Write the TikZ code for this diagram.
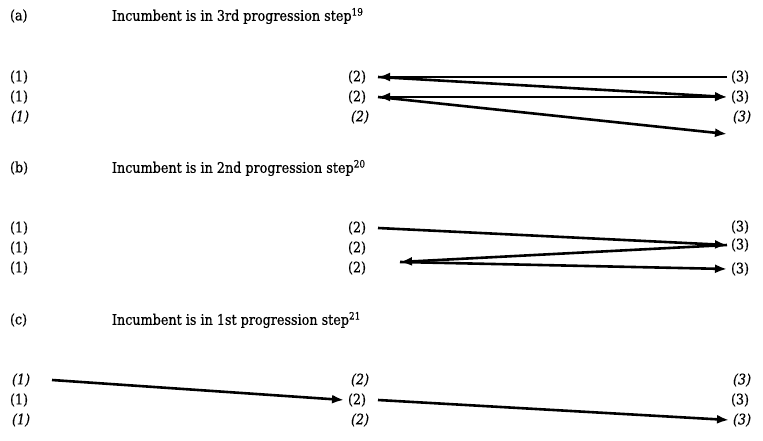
\documentclass[tikz,border=0pt]{standalone}
\usepackage{fontspec}
\setmainfont{DejaVu Serif}[FakeStretch=0.88,UprightFeatures={FakeBold=0.6},ItalicFeatures={FakeBold=0.6}]
\usetikzlibrary{arrows.meta}
\begin{document}
\begin{tikzpicture}[x=1pt,y=-1pt,
  hdg/.style={anchor=west,inner sep=1pt,outer sep=0pt,font=\fontsize{14.5}{16}\selectfont},
  lbl/.style={hdg,outer sep=3pt,text width=26pt,align=left},
  ilbl/.style={lbl,font=\fontsize{14.5}{16}\selectfont\itshape},
  conn/.style={line width=2.6pt,-{Latex[length=12pt,width=9pt]}},
  dconn/.style={line width=2.6pt,{Latex[length=12pt,width=9pt]}-{Latex[length=12pt,width=9pt]}}]
\useasboundingbox (0,0) rectangle (763,441);
% ---------- (a)
\node[hdg] (ha) at (9,16) {(a)};
\node[hdg] (ta) at (111,16) {Incumbent is in 3rd progression step\textsuperscript{19}};
\node[lbl] (a1r1) at (6,77) {(1)};
\node[lbl] (a1r2) at (6,97) {(1)};
\node[ilbl] (a1r3) at (7,117) {(1)};
\node[lbl] (a2r1) at (344,77) {(2)};
\node[lbl] (a2r2) at (344,97) {(2)};
\node[ilbl] (a2r3) at (347,117) {(2)};
\node[lbl] (a3r1) at (727,77) {(3)};
\node[lbl] (a3r2) at (727,97) {(3)};
\node[ilbl] (a3r3) at (729,117) {(3)};
\coordinate (aend) at (727,134);
\draw[conn] (a3r1.west) -- (a2r1.east);
\draw[conn] (a2r1.east) -- (a3r2.west);
\draw[dconn] (a2r2.east) -- (a3r2.west);
\draw[conn] (a2r2.east) -- (aend);
% ---------- (b)
\node[hdg] (hb) at (9,168) {(b)};
\node[hdg] (tb) at (111,168) {Incumbent is in 2nd progression step\textsuperscript{20}};
\node[lbl] (b1r1) at (6,228) {(1)};
\node[lbl] (b1r2) at (6,248) {(1)};
\node[lbl] (b1r3) at (6,268) {(1)};
\node[lbl] (b2r1) at (344,228) {(2)};
\node[lbl] (b2r2) at (344,248) {(2)};
\node[lbl] (b2r3) at (344,268) {(2)};
\node[lbl] (b3r1) at (727,227) {(3)};
\node[lbl] (b3r2) at (727,245) {(3)};
\node[lbl] (b3r3) at (727,269) {(3)};
\coordinate (bmid) at (400,262);
\draw[conn] (b2r1.east) -- (b3r2.west);
\draw[conn] (b3r2.west) -- (bmid);
\draw[conn] (bmid) -- (b3r3.west);
% ---------- (c)
\node[hdg] (hc) at (9,320) {(c)};
\node[hdg] (tc) at (111,320) {Incumbent is in 1st progression step\textsuperscript{21}};
\node[ilbl] (c1r1) at (8,380) {(1)};
\node[lbl] (c1r2) at (6,400) {(1)};
\node[ilbl] (c1r3) at (8,420) {(1)};
\node[ilbl] (c2r1) at (347,380) {(2)};
\node[lbl] (c2r2) at (344,400) {(2)};
\node[ilbl] (c2r3) at (347,420) {(2)};
\node[ilbl] (c3r1) at (729,380) {(3)};
\node[lbl] (c3r2) at (727,400) {(3)};
\node[ilbl] (c3r3) at (729,420) {(3)};
\draw[conn] ([xshift=10pt]c1r1.east) -- (c2r2.west);
\draw[conn] (c2r2.east) -- (c3r3.west);
\end{tikzpicture}
\end{document}
